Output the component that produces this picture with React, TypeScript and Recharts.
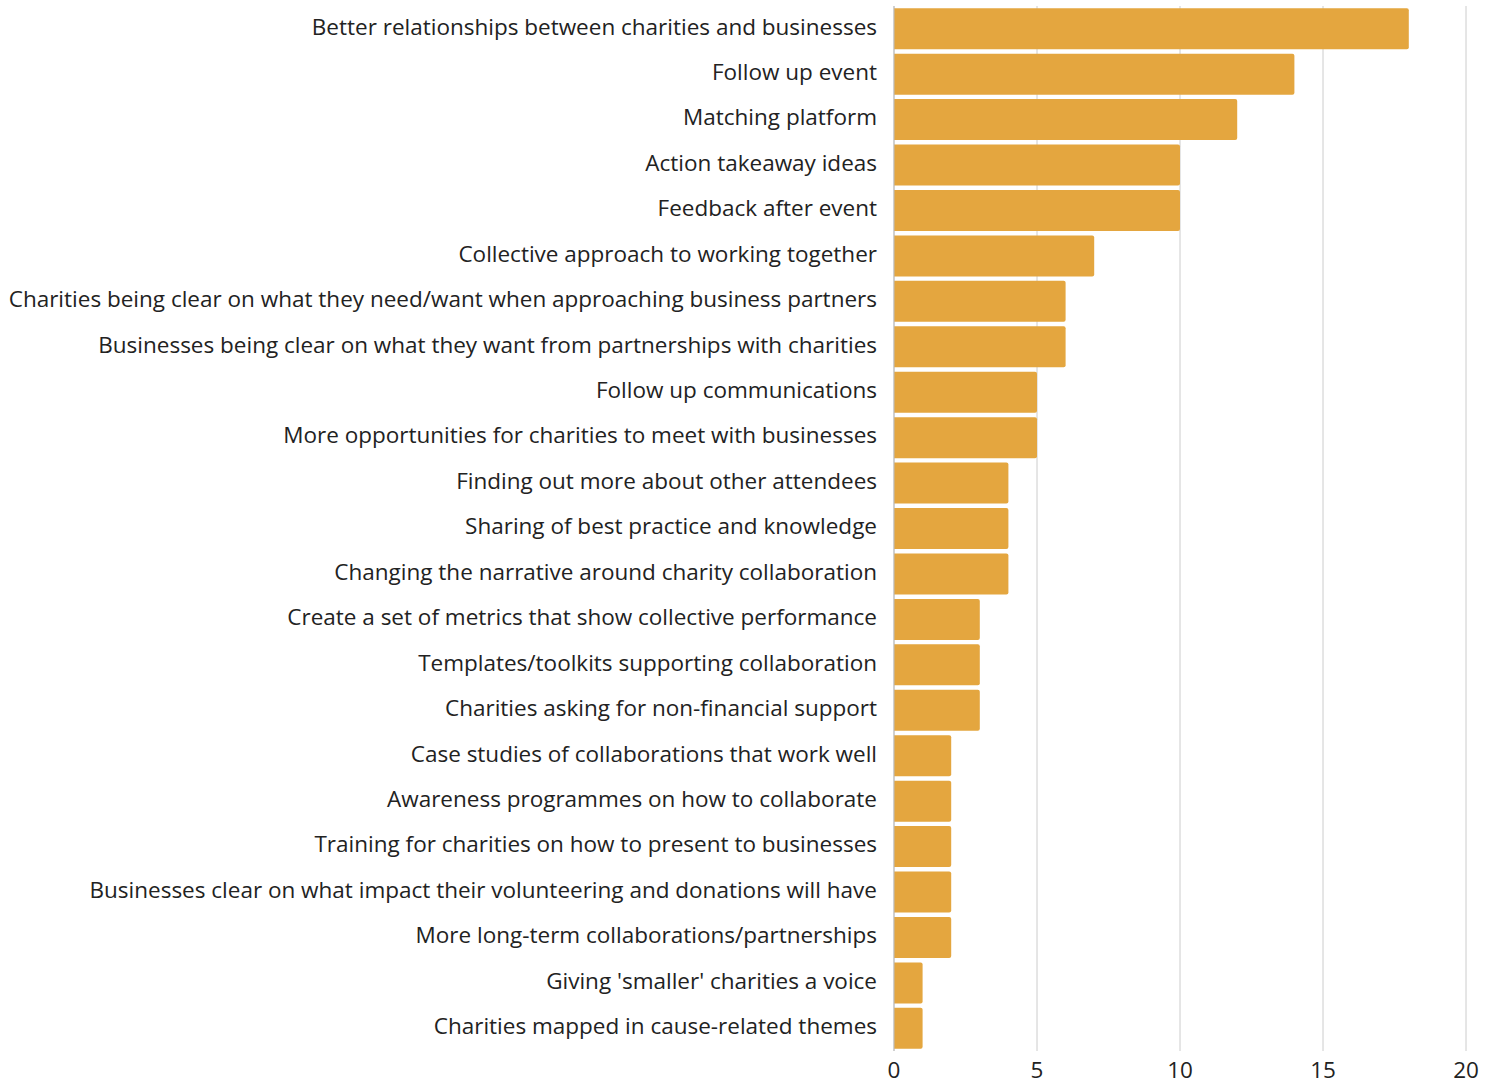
import React from 'react';
import { BarChart, Bar, XAxis, YAxis, CartesianGrid } from 'recharts';

const categories = [
  'Better relationships between charities and businesses',
  'Follow up event',
  'Matching platform',
  'Action takeaway ideas',
  'Feedback after event',
  'Collective approach to working together',
  'Charities being clear on what they need/want when approaching business partners',
  'Businesses being clear on what they want from partnerships with charities',
  'Follow up communications',
  'More opportunities for charities to meet with businesses',
  'Finding out more about other attendees',
  'Sharing of best practice and knowledge',
  'Changing the narrative around charity collaboration',
  'Create a set of metrics that show collective performance',
  'Templates/toolkits supporting collaboration',
  'Charities asking for non-financial support',
  'Case studies of collaborations that work well',
  'Awareness programmes on how to collaborate',
  'Training for charities on how to present to businesses',
  'Businesses clear on what impact their volunteering and donations will have',
  'More long-term collaborations/partnerships',
  "Giving 'smaller' charities a voice",
  'Charities mapped in cause-related themes',
];

const counts = [18, 14, 12, 10, 10, 7, 6, 6, 5, 5, 4, 4, 4, 3, 3, 3, 2, 2, 2, 2, 2, 1, 1];

const xTicks = [0, 5, 10, 15, 20];

const data = categories.map((name, i) => ({ name, value: counts[i] }));

const FONT = '"Open Sans", sans-serif';

const YTick = (props: any) => {
  const { x, y, payload } = props;
  return (
    <text
      x={x}
      y={y}
      dy="0.26em"
      textAnchor="end"
      fill="#222222"
      fontSize={22.5}
      fontFamily={FONT}
    >
      {payload.value}
    </text>
  );
};

export default function App() {
  return (
    <div style={{ position: 'absolute', left: 0, top: 0 }}>
      <BarChart
        width={1495}
        height={1081}
        data={data}
        layout="vertical"
        margin={{ top: 6, right: 29, bottom: 0, left: 0 }}
        barCategoryGap={2.25}
      >
        <CartesianGrid horizontal={false} vertical={true} stroke="#cccccc" strokeDasharray="" />
        <XAxis
          type="number"
          domain={[0, 20]}
          ticks={xTicks}
          axisLine={false}
          tickLine={false}
          height={30}
          tickMargin={5}
          tick={{ fill: '#222222', fontSize: 22.5, fontFamily: FONT }}
        />
        <YAxis
          type="category"
          dataKey="name"
          width={894}
          axisLine={{ stroke: '#bbbbbb' }}
          tickLine={false}
          tickMargin={11}
          interval={0}
          tick={<YTick />}
        />
        <Bar dataKey="value" fill="#E4A63F" radius={[0, 2, 2, 0]} isAnimationActive={false} />
      </BarChart>
    </div>
  );
}
